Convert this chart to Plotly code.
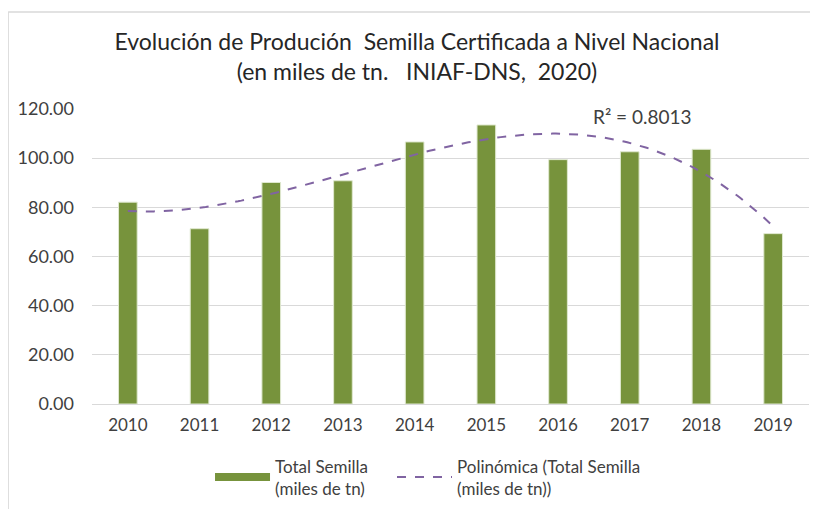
import numpy as np
import plotly.graph_objects as go

years = ["2010", "2011", "2012", "2013", "2014", "2015", "2016", "2017", "2018", "2019"]
total_semilla = [82.1, 71.3, 90.1, 90.8, 106.6, 113.5, 99.4, 102.6, 103.6, 69.3]
y_ticks = [0, 20, 40, 60, 80, 100, 120]
y_tick_labels = ["0.00", "20.00", "40.00", "60.00", "80.00", "100.00", "120.00"]
r2_label = "R² = 0.8013"

# polynomial trendline (order 3) fitted to the bar data
xi = np.arange(len(years))
coef = np.polyfit(xi, total_semilla, 3)
xs = np.linspace(0, len(years) - 1, 200)
trend = np.polyval(coef, xs)

FONT = "Lato, Carlito, Calibri, sans-serif"
GREEN = "#77933C"
PURPLE = "#8064A2"

fig = go.Figure()
fig.add_trace(go.Bar(
    x=xi, y=total_semilla,
    name="Total Semilla<br>(miles de tn)",
    marker=dict(color=GREEN, line=dict(color="#dfe8cf", width=1)),
    width=0.26, showlegend=False,
))
# legend stand-in for the bar series (wide swatch like the original)
fig.add_trace(go.Scatter(
    x=[None], y=[None], mode="lines",
    name="Total Semilla<br>(miles de tn)",
    line=dict(color=GREEN, width=8), legend="legend",
))
fig.add_trace(go.Scatter(
    x=xs, y=trend, mode="lines",
    name="Polinómica (Total Semilla<br>(miles de tn))",
    line=dict(color=PURPLE, width=2, dash="dash"), legend="legend2",
))

leg_common = dict(orientation="h", y=-0.245, yanchor="middle", xanchor="left",
                  font=dict(size=17, color="#404040"), itemwidth=55,
                  bgcolor="rgba(0,0,0,0)")

fig.update_layout(
    width=818, height=509,
    margin=dict(l=84, r=17, t=101, b=112),
    paper_bgcolor="white", plot_bgcolor="white",
    font=dict(family=FONT, color="#404040", size=16),
    title=dict(
        text="Evolución de Produción  Semilla Certificada a Nivel Nacional<br>(en miles de tn.   INIAF-DNS,  2020)",
        x=0.5, xanchor="center", y=0.918, yanchor="middle",
        font=dict(family=FONT, size=23, color="#262626"),
    ),
    xaxis=dict(
        tickmode="array", tickvals=list(xi), ticktext=years,
        range=[-0.5, len(years) - 0.5], automargin=False,
        showgrid=False, showline=True, linecolor="#d9d9d9", linewidth=1,
        ticks="", ticklabelstandoff=6, tickfont=dict(size=17, color="#404040"),
    ),
    yaxis=dict(
        range=[0, 120], tickmode="array", tickvals=y_ticks, ticktext=y_tick_labels,
        showgrid=True, gridcolor="#d9d9d9", gridwidth=1, zeroline=False,
        showline=False, ticks="", ticklabelstandoff=17, automargin=False,
        tickfont=dict(size=18, color="#404040"),
    ),
    showlegend=True,
    legend=dict(x=0.1646, **leg_common),
    legend2=dict(x=0.4184, **leg_common),
    annotations=[dict(
        text=r2_label, xref="paper", yref="y", x=0.768, y=116.9,
        showarrow=False, font=dict(size=19, color="#404040"),
        xanchor="center", yanchor="middle",
    )],
    shapes=[
        dict(type="line", xref="paper", yref="paper", x0=-0.117, x1=1.03, y0=1.329, y1=1.329,
             line=dict(color="#d9d9d9", width=1.5)),
        dict(type="line", xref="paper", yref="paper", x0=-0.117, x1=-0.117, y0=1.329, y1=-0.4,
             line=dict(color="#d9d9d9", width=1.5)),
    ],
)

fig.write_html("out.html")
